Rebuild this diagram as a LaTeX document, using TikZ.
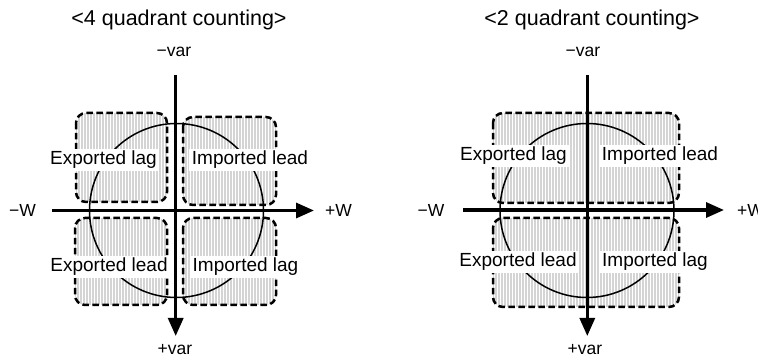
\documentclass[tikz,border=0pt]{standalone}
\usepackage{fontspec}
\setmainfont{Liberation Sans}
\usetikzlibrary{arrows.meta}
\tikzset{
  qbox/.style={fill=black!17, rounded corners=10pt,
    path picture={\foreach \i in {0,3,...,200}
      \draw[white,line width=0.9pt] ([xshift=\i pt+1.5pt]path picture bounding box.south west) -- ([xshift=\i pt+1.5pt]path picture bounding box.north west);}},
  qborder/.style={draw=black, line width=2.5pt, dash pattern=on 6.5pt off 3.5pt, rounded corners=10pt},
  axis/.style={line width=3.2pt, -{Triangle[length=18pt,width=15pt]}},
  circ/.style={line width=1.5pt},
  lab/.style={fill=white, inner sep=2.5pt, font=\fontsize{19}{21}\selectfont},
  alab/.style={font=\fontsize{17.5}{19}\selectfont, inner sep=0pt},
  ttl/.style={font=\fontsize{21.5}{23}\selectfont, inner sep=0pt}
}
\begin{document}
\begin{tikzpicture}[x=1pt,y=-1pt]
\useasboundingbox (0,0) rectangle (758,363);
% ===== left panel =====
\node[ttl] (t1) at (179,20) {<4 quadrant counting>};
\path[qbox] (76,113) rectangle (167,202);
\path[qbox] (183,117) rectangle (276,205);
\path[qbox] (75,218) rectangle (167,305);
\path[qbox] (183,218) rectangle (276,305);
\path[qborder] (76,113) rectangle (167,202);
\path[qborder] (183,117) rectangle (276,205);
\path[qborder] (75,218) rectangle (167,305);
\path[qborder] (183,218) rectangle (276,305);
\draw[circ] (176.5,210.5) circle[radius=87];
\coordinate (l-left) at (52,210.5);
\coordinate (l-right) at (314,210.5);
\coordinate (l-top) at (175.7,75);
\coordinate (l-bot) at (175.7,336);
\draw[axis] (l-left) -- (l-right);
\draw[axis] (l-top) -- (l-bot);
\node[alab] (l-mw) at (22.5,210.5) {−W};
\node[alab,anchor=west] (l-pw) at (325,210.5) {+W};
\node[alab] (l-mv) at (174,52) {−var};
\node[alab] (l-pv) at (175,350) {+var};
\node[lab] (l-el) at (103.5,160) {Exported lag};
\node[lab] (l-il) at (250,160) {Imported lead};
\node[lab] (l-ed) at (109,267) {Exported lead};
\node[lab] (l-ig) at (245.5,267) {Imported lag};
% ===== right panel =====
\node[ttl] (t2) at (592,20) {<2 quadrant counting>};
\path[qbox] (493,113) rectangle (679,203);
\path[qbox] (493,218) rectangle (679,307);
\path[qborder] (493,113) rectangle (679,203);
\path[qborder] (493,218) rectangle (679,307);
\draw[circ] (587,210.5) circle[radius=87];
\coordinate (r-left) at (463,210);
\coordinate (r-right) at (724,210);
\coordinate (r-top) at (587.3,75);
\coordinate (r-bot) at (587.3,336);
\draw[axis] (r-left) -- (r-right);
\draw[axis] (r-top) -- (r-bot);
\node[alab] (r-mw) at (431,210) {−W};
\node[alab,anchor=west] (r-pw) at (737,210) {+W};
\node[alab] (r-mv) at (583,52) {−var};
\node[alab] (r-pv) at (585,350) {+var};
\node[lab] (r-el) at (513.5,156) {Exported lag};
\node[lab] (r-il) at (660,156) {Imported lead};
\node[lab] (r-ed) at (518,262) {Exported lead};
\node[lab] (r-ig) at (655,262) {Imported lag};
\end{tikzpicture}
\end{document}
